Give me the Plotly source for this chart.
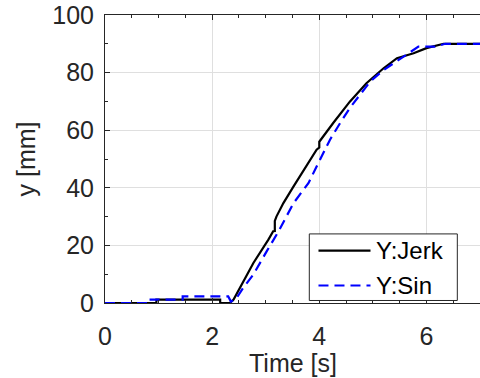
import plotly.graph_objects as go

# Y:Jerk (black, solid)
t_jerk = [0, 0.96, 0.96, 2.15, 2.15, 2.33, 2.40, 2.77, 3.05, 3.14, 3.17, 3.17, 3.20,
          3.33, 3.52, 3.70, 3.95, 4.00, 4.00, 4.26, 4.57, 4.88, 5.20, 5.45, 5.76,
          6.00, 6.32, 7.00]
y_jerk = [0, 0, 1.2, 1.2, 0, 0, 1.2, 13.9, 22.0, 24.9, 25.0, 28.5, 30.0,
          34.7, 40.5, 45.7, 53.2, 54.0, 56.0, 62.5, 69.9, 76.3, 81.5, 85.0, 86.7,
          88.5, 90.0, 90.0]

# Y:Sin (blue, dashed)
t_sin = [0, 0.80, 0.80, 1.45, 1.45, 2.30, 2.35, 2.45, 2.58, 2.77, 3.02, 3.24,
         3.52, 3.80, 3.95, 4.20, 4.39, 4.57, 4.76, 4.95, 5.20, 5.45, 5.63, 5.85,
         6.16, 6.35, 7.00]
y_sin = [0, 0, 1.2, 1.2, 2.3, 2.3, 0.5, 1.5, 5.3, 9.9, 18.0, 24.9,
         34.7, 41.7, 47.4, 56.7, 62.5, 67.7, 72.3, 76.9, 80.9, 84.0, 86.1, 89.0,
         89.0, 90.0, 90.0]

names = ["Y:Jerk", "Y:Sin"]
x_ticks = [0, 2, 4, 6]
y_ticks = [0, 20, 40, 60, 80, 100]
x_title = "Time [s]"
y_title = "y [mm]"

FONT = "Liberation Sans, Arial, Helvetica, sans-serif"
AX = "#262626"
GRID = "#dfdfdf"
FS = 25

fig = go.Figure()
fig.add_trace(go.Scatter(x=t_jerk, y=y_jerk, mode="lines", name=names[0],
                         line=dict(color="black", width=2.2), showlegend=False))
fig.add_trace(go.Scatter(x=t_sin, y=y_sin, mode="lines", name=names[1],
                         line=dict(color="#0000ff", width=2.2, dash="10px,6px"),
                         showlegend=False))

# custom legend box (paper coords)
lx0, lx1, ly0, ly1 = 0.5448, 0.9395, 0.0087, 0.2399
fig.add_shape(type="rect", xref="paper", yref="paper", x0=lx0, x1=lx1, y0=ly0, y1=ly1,
              line=dict(color=AX, width=1), fillcolor="white", layer="above")
rows = [0.182, 0.0607]
styles = [dict(color="black", width=2.2), dict(color="#0000ff", width=2.2, dash="10px,6px")]
for name, yy, st in zip(names, rows, styles):
    fig.add_shape(type="line", xref="paper", yref="paper", x0=0.5693, x1=0.7080,
                  y0=yy, y1=yy, line=st, layer="above")
    fig.add_annotation(xref="paper", yref="paper", x=0.718, y=yy, text=name,
                       showarrow=False, xanchor="left", yanchor="middle",
                       font=dict(family=FONT, size=FS - 1, color="black"))

# x-axis title placed tight under the tick labels (MATLAB style)
fig.add_annotation(xref="paper", yref="paper", x=0.5, y=-0.209, text=x_title,
                   showarrow=False, xanchor="center", yanchor="middle",
                   font=dict(family=FONT, size=FS, color=AX))

fig.update_layout(
    width=480, height=378,
    margin=dict(l=105, r=0, t=15, b=75, autoexpand=False),
    paper_bgcolor="white", plot_bgcolor="white",
    font=dict(family=FONT, size=FS, color=AX),
    showlegend=False,
)
fig.update_xaxes(
    range=[0, 7], tickvals=x_ticks, showgrid=True, gridcolor=GRID, gridwidth=1,
    showline=True, linecolor=AX, linewidth=1, mirror="ticks",
    ticks="inside", ticklen=5, tickcolor=AX, ticklabelstandoff=11,
    ticklabeloverflow="allow",
    minor=dict(ticks="inside", dtick=0.5, ticklen=3, tickcolor=AX, showgrid=False),
    zeroline=False, tickfont=dict(size=FS, color=AX), automargin=False,
)
fig.update_yaxes(
    range=[0, 100], tickvals=y_ticks, showgrid=True, gridcolor=GRID, gridwidth=1,
    showline=True, linecolor=AX, linewidth=1, mirror=False,
    ticks="inside", ticklen=5, tickcolor=AX, ticklabelstandoff=5,
    ticklabeloverflow="allow",
    minor=dict(ticks="inside", dtick=10, ticklen=3, tickcolor=AX, showgrid=False),
    zeroline=False, tickfont=dict(size=FS, color=AX), automargin=False,
    title=dict(text=y_title, font=dict(size=FS, color=AX), standoff=9),
)

# remove the page's default body margin so the figure fills the window exactly
fig.write_html("out.html", config={"displayModeBar": False},
               post_script="document.body.style.margin='0px';")
